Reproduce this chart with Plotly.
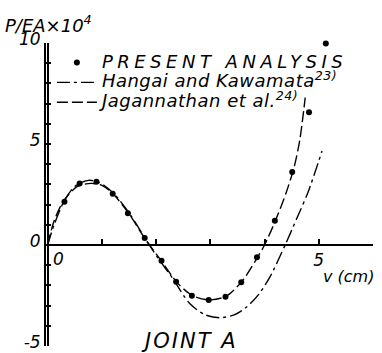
import plotly.graph_objects as go

# Load-displacement data for joint A (P/EA x 10^4 against v in cm)
pa_v = [0.31, 0.59, 0.90, 1.20, 1.48, 1.79, 2.10, 2.37, 2.66, 2.97, 3.28, 3.57, 3.86, 4.19, 4.51, 4.82, 5.13]
pa_p = [2.14, 3.05, 3.13, 2.54, 1.57, 0.35, -0.78, -1.82, -2.51, -2.72, -2.56, -1.85, -0.61, 1.20, 3.61, 6.57, 9.98]

hk_v = [0, 0.12, 0.30, 0.50, 0.75, 0.95, 1.20, 1.50, 1.85, 2.05, 2.31, 2.62, 2.90, 3.17, 3.45, 3.67, 3.90, 4.10, 4.38, 4.60, 4.80, 5.06]
hk_p = [0, 1.00, 2.15, 2.90, 3.20, 3.10, 2.60, 1.60, 0.10, -0.70, -1.67, -2.90, -3.45, -3.60, -3.45, -3.07, -2.42, -1.58, 0, 1.35, 2.60, 4.65]

jg_v = [0, 0.12, 0.30, 0.55, 0.80, 1.00, 1.20, 1.50, 1.80, 2.10, 2.40, 2.67, 2.97, 3.28, 3.57, 3.85, 4.00, 4.20, 4.40, 4.55, 4.65, 4.75]
jg_p = [0, 1.20, 2.20, 2.90, 3.05, 2.95, 2.55, 1.55, 0.30, -0.80, -1.90, -2.50, -2.72, -2.55, -1.85, -0.70, 0, 1.20, 2.60, 3.90, 5.20, 7.30]

# tick positions (every unit) and the labels shown on them
x_tick_vals = [0, 1, 2, 3, 4, 5, 6]
x_tick_text = ["", "", "", "", "", "5", ""]
y_tick_vals = [-5, -4, -3, -2, -1, 0, 1, 2, 3, 4, 5, 6, 7, 8, 9, 10]
y_tick_text = ["-5", "", "", "", "", "0", "", "", "", "", "5", "", "", "", "", "10"]

# a sliver below v = 0 keeps the v = 0 line (the P axis) inside the plot
V_RANGE = [-0.03, 6.0]
P_RANGE = [-5, 10]

FONT = "DejaVu Sans"
ink = "black"


def big(label, spacing=0.5):
    # legend rows stay compact while the lettering is drawn larger
    return f'<span style="font-size:18px;letter-spacing:{spacing}px">{label}</span>'


fig = go.Figure()
fig.add_trace(go.Scatter(
    x=pa_v, y=pa_p, mode="markers", name=big("PRESENT ANALYSIS", 4.5),
    marker=dict(size=6, color=ink), cliponaxis=False,
))
fig.add_trace(go.Scatter(
    x=hk_v, y=hk_p, mode="lines", name=big("Hangai and Kawamata<sup>23)</sup>"),
    line=dict(color=ink, width=1.4, dash="13px,4px,3px,4px", shape="spline", smoothing=0.8),
))
fig.add_trace(go.Scatter(
    x=jg_v, y=jg_p, mode="lines", name=big("Jagannathan et al.<sup>24)</sup>"),
    line=dict(color=ink, width=1.4, dash="11px,4px", shape="spline", smoothing=0.8),
))

tick_font = dict(family=FONT, size=17, color=ink, style="italic")

# fraction of the plot height at which P = 0 sits
zero_frac = (0 - P_RANGE[0]) / (P_RANGE[1] - P_RANGE[0])

axis_common = dict(
    showline=True, linecolor=ink, linewidth=2,
    showgrid=False,
    ticks="inside", ticklen=5, tickcolor=ink, tickwidth=1.5,
    ticklabeloverflow="allow", automargin=False,
    tickfont=tick_font, tickmode="array",
)

fig.update_layout(
    template="none",
    width=382, height=353,
    margin=dict(l=46, r=9, t=43, b=7),
    paper_bgcolor="white", plot_bgcolor="white",
    showlegend=True,
    legend=dict(
        x=0.018, y=0.985, xanchor="left", yanchor="top",
        bgcolor="rgba(0,0,0,0)", itemwidth=40, tracegroupgap=0,
        font=dict(family=FONT, size=13, color=ink, style="italic"),
    ),
    # v axis crosses the P axis at P = 0; its zero line draws the P axis
    xaxis=dict(
        range=V_RANGE, anchor="free", position=zero_frac,
        zeroline=True, zerolinecolor=ink, zerolinewidth=2,
        tickvals=x_tick_vals, ticktext=x_tick_text, **axis_common,
    ),
    yaxis=dict(
        range=P_RANGE, anchor="x", side="left", zeroline=False,
        tickvals=y_tick_vals, ticktext=y_tick_text, ticklabelshift=-4,
        **axis_common,
    ),
)

fig.add_annotation(
    text="P/EA×10<sup>4</sup>", xref="paper", yref="paper",
    x=-0.13, y=1.11, xanchor="left", yanchor="top", showarrow=False,
    font=dict(family=FONT, size=18, color=ink, style="italic"),
)
fig.add_annotation(
    text="0", xref="x", yref="y", x=0, y=0, xanchor="left", yanchor="top",
    xshift=3, yshift=-2, showarrow=False, font=tick_font,
)
fig.add_annotation(
    text="v (cm)", xref="paper", yref="paper",
    x=0.84, y=0.228, xanchor="left", yanchor="middle", showarrow=False,
    font=dict(family=FONT, size=16, color=ink, style="italic"),
)
fig.add_annotation(
    text='<span style="letter-spacing:2px">JOINT A</span>', xref="paper", yref="paper",
    x=0.44, y=0.015, xanchor="center", yanchor="middle", showarrow=False,
    font=dict(family=FONT, size=21, color=ink, style="italic"),
)

fig.write_html("out.html")
